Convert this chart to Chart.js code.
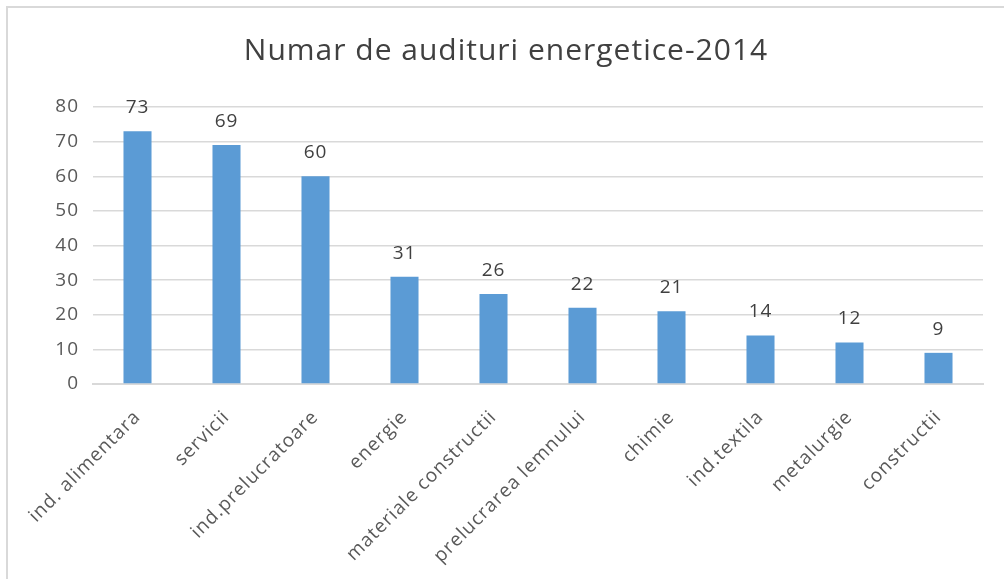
<!DOCTYPE html>
<html>
<head>
<meta charset="utf-8">
<script src="https://cdn.jsdelivr.net/npm/chart.js@4"></script>
<style>
    html, body { margin: 0; padding: 0; background: #fff; }
    #wrap {
        position: absolute;
        left: 6px; top: 6px;
        width: 998px; height: 573px;
        border-top: 2px solid #d9d9d9;
        border-left: 2px solid #d9d9d9;
    }
</style>
</head>
<body>
<div id="wrap"><canvas id="auditChart" width="996" height="571"></canvas></div>
<script>
const categories = ['ind. alimentara', 'servicii', 'ind.prelucratoare', 'energie', 'materiale constructii',
    'prelucrarea lemnului', 'chimie', 'ind.textila', 'metalurgie', 'constructii'];
const audits = [73, 69, 60, 31, 26, 22, 21, 14, 12, 9];
const yTicks = [0, 10, 20, 30, 40, 50, 60, 70, 80];

const fontFamily = '"Open Sans", "Noto Sans", sans-serif';

// the original text is a bit wider, so space the letters a little
const spacing = {
    id: 'spacing',
    beforeUpdate(chart) { chart.ctx.letterSpacing = '1px'; },
    beforeDraw(chart) { chart.ctx.letterSpacing = '1px'; }
};

// value labels on top of each bar
const barValues = {
    id: 'barValues',
    afterDatasetsDraw(chart) {
        const ctx = chart.ctx;
        const meta = chart.getDatasetMeta(0);
        ctx.save();
        ctx.font = '19px ' + fontFamily;
        ctx.fillStyle = '#404040';
        ctx.textAlign = 'center';
        ctx.textBaseline = 'bottom';
        meta.data.forEach((bar, i) => {
            ctx.fillText(String(chart.data.datasets[0].data[i]), bar.x, bar.y - 14);
        });
        ctx.restore();
    }
};

const chartConfig = {
    type: 'bar',
    data: {
        labels: categories,
        datasets: [
            {
                label: 'Numar de audituri',
                data: audits,
                backgroundColor: '#5b9bd5',
                borderWidth: 0,
                barPercentage: 0.315,
                categoryPercentage: 1
            }
        ]
    },
    options: {
        responsive: false,
        animation: false,
        layout: { padding: { left: 21, right: 21, top: 0, bottom: 0 } },
        plugins: {
            legend: { display: false },
            tooltip: { enabled: false },
            title: {
                display: true,
                text: 'Numar de audituri energetice-2014',
                color: '#404040',
                font: { family: fontFamily, size: 30, weight: 'normal' },
                padding: { top: 25, bottom: 38 }
            }
        },
        scales: {
            x: {
                grid: { display: false },
                border: { display: true, color: '#d9d9d9', width: 2 },
                ticks: {
                    color: '#595959',
                    font: { family: fontFamily, size: 19 },
                    minRotation: 45,
                    maxRotation: 45,
                    padding: 14,
                    autoSkip: false
                },
                afterFit(scale) { scale.height = 195; }
            },
            y: {
                min: 0,
                max: 80,
                afterBuildTicks(scale) { scale.ticks = yTicks.map(v => ({ value: v })); },
                grid: { color: '#d9d9d9', lineWidth: 1.5, drawTicks: false },
                border: { display: false },
                ticks: {
                    color: '#595959',
                    font: { family: fontFamily, size: 19 },
                    padding: 14
                },
                afterFit(scale) { scale.width = 64; }
            }
        }
    },
    plugins: [spacing, barValues]
};

const ctx = document.getElementById('auditChart').getContext('2d');
const auditChart = new Chart(ctx, chartConfig);
</script>
</body>
</html>
